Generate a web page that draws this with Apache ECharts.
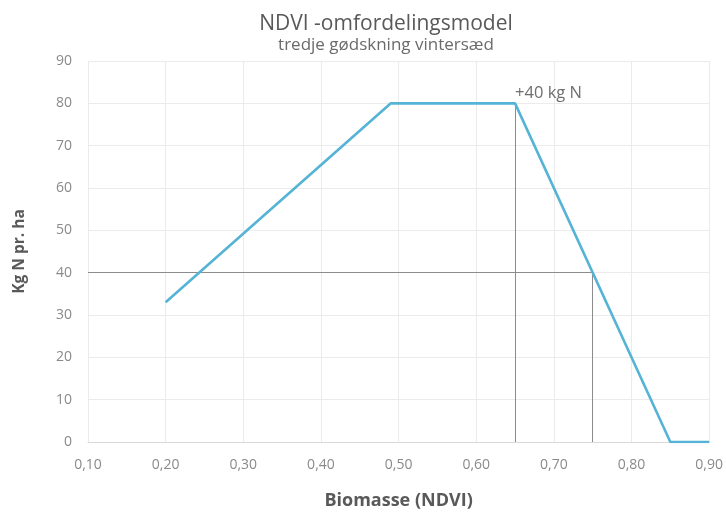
<!DOCTYPE html>
<html>
<head>
<meta charset="utf-8">
<script src="https://cdn.jsdelivr.net/npm/echarts@6/dist/echarts.min.js"></script>
<style>html,body{margin:0;padding:0;background:#fff}#c{width:726px;height:515px}</style>
</head>
<body>
<div id="c"></div>
<script>
const ndvi = [0.20, 0.49, 0.65, 0.85, 0.90];
const kgN = [33, 80, 80, 0, 0];
const xTicks = {min: 0.10, max: 0.90, interval: 0.10};
const yTicks = {min: 0, max: 90, interval: 10};
const refLevel = 40;      // horizontal reference (kg N)
const refNdviA = 0.65;    // start of decline
const refNdviB = 0.75;    // NDVI where level = 40
const annotation = '+40 kg N';

const FONT = '"Open Sans", Lato, sans-serif';
const chart = echarts.init(document.getElementById('c'), null, {renderer: 'canvas'});
chart.setOption({
  backgroundColor: '#ffffff',
  animation: false,
  title: {
    text: 'NDVI -omfordelingsmodel',
    subtext: 'tredje gødskning vintersæd',
    left: 381, textAlign: 'center', top: 9, itemGap: 2,
    textStyle: {fontFamily: FONT, fontSize: 21, fontWeight: 'normal', color: '#595959'},
    subtextStyle: {fontFamily: FONT, fontSize: 17, color: '#6a6a6a'}
  },
  grid: {left: 88, right: 16, top: 61, bottom: 71},
  xAxis: {
    type: 'value', min: xTicks.min, max: xTicks.max, interval: xTicks.interval,
    name: 'Biomasse (NDVI)', nameLocation: 'middle', nameGap: 50,
    nameTextStyle: {fontFamily: FONT, fontSize: 18, fontWeight: 'bold', color: '#595959'},
    axisLine: {show: true, lineStyle: {color: '#d9d9d9'}},
    axisTick: {show: false},
    axisLabel: {fontFamily: FONT, fontSize: 14, color: '#8a8a8a', margin: 16,
      formatter: v => v.toFixed(2).replace('.', ',')},
    splitLine: {show: true, lineStyle: {color: '#ebebeb'}}
  },
  yAxis: {
    type: 'value', min: yTicks.min, max: yTicks.max, interval: yTicks.interval,
    name: 'Kg N pr. ha', nameLocation: 'middle', nameGap: 60, nameRotate: 90,
    nameTextStyle: {fontFamily: FONT, fontSize: 15.5, fontWeight: 'bold', color: '#595959'},
    axisLine: {show: false},
    axisTick: {show: false},
    axisLabel: {fontFamily: FONT, fontSize: 14, color: '#8a8a8a', margin: 16},
    splitLine: {show: true, lineStyle: {color: '#ebebeb'}}
  },
  series: [{
    type: 'line',
    data: ndvi.map((x, i) => [x, kgN[i]]),
    symbol: 'none',
    lineStyle: {color: '#55b3d6', width: 2.6},
    z: 3,
    markLine: {
      silent: true, symbol: 'none',
      label: {show: false},
      lineStyle: {color: '#8c8c8c', width: 1, type: 'solid'},
      data: [
        [{coord: [xTicks.min, refLevel]}, {coord: [refNdviB, refLevel]}],
        [{coord: [refNdviA, kgN[2]]}, {coord: [refNdviA, yTicks.min]}],
        [{coord: [refNdviB, refLevel]}, {coord: [refNdviB, yTicks.min]}]
      ],
      z: 2
    },
    markPoint: {
      silent: true, symbol: 'circle', symbolSize: 0,
      data: [{coord: [refNdviA, kgN[2]]}],
      label: {show: true, formatter: annotation, position: 'right', offset: [-5, -10],
        fontFamily: FONT, fontSize: 16.5, color: '#6e6e6e'}
    }
  }]
});
</script>
</body>
</html>
